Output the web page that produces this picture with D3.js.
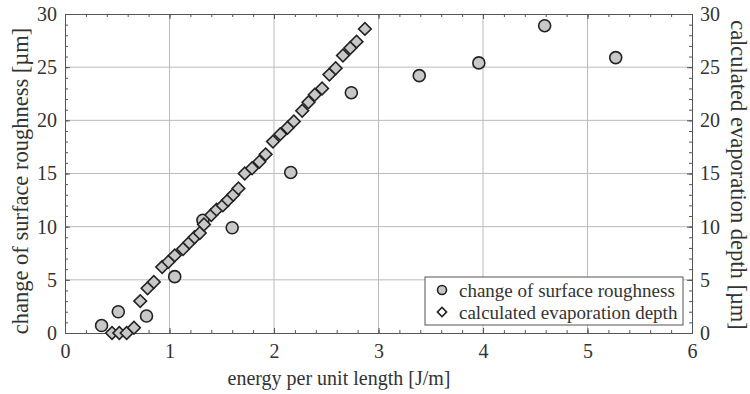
<!DOCTYPE html>
<html>
<head>
<meta charset="utf-8">
<script src="https://cdnjs.cloudflare.com/ajax/libs/d3/7.8.5/d3.min.js"></script>
<style>
  body { margin: 0; background: #fff; }
  text { font-family: "Liberation Serif", "Times New Roman", serif; fill: #333; }
</style>
</head>
<body>
<svg id="plot" width="750" height="394"></svg>
<script>
// roughness measurements
var roughX = [0.35, 0.51, 0.78, 1.05, 1.32, 1.60, 2.16, 2.74, 3.39, 3.96, 4.59, 5.27];
var roughY = [0.7, 2.0, 1.6, 5.3, 10.6, 9.9, 15.1, 22.6, 24.2, 25.4, 28.9, 25.9];

// calculated depth
var depthX = [0.45, 0.52, 0.59, 0.66, 0.72, 0.79, 0.85, 0.93, 0.99, 1.05, 1.13, 1.19, 1.24, 1.29,
              1.33, 1.40, 1.45, 1.51, 1.56, 1.61, 1.66, 1.72, 1.79, 1.86, 1.92, 1.99, 2.06, 2.13,
              2.19, 2.27, 2.33, 2.39, 2.46, 2.53, 2.59, 2.66, 2.73, 2.79, 2.87];
var depthY = [0, 0, 0, 0.5, 3.0, 4.2, 4.8, 6.2, 6.7, 7.3, 7.9, 8.5, 9.0, 9.4,
              10.2, 11.1, 11.6, 12.0, 12.5, 13.0, 13.6, 15.0, 15.5, 16.1, 16.8, 18.0, 18.7, 19.3,
              19.9, 20.9, 21.7, 22.4, 23.0, 24.3, 24.9, 26.1, 26.8, 27.4, 28.6];

var xTicks = [0, 1, 2, 3, 4, 5, 6];
var yTicks = [0, 5, 10, 15, 20, 25, 30];
var legendLabels = ["change of surface roughness", "calculated evaporation depth"];

var L = 65, R = 692, T = 14, B = 333;
var svg = d3.select("#plot");

var x = d3.scaleLinear().domain([0, 6]).range([L, R]);
var y = d3.scaleLinear().domain([0, 30]).range([B, T]);

var xMinor = d3.range(0, 6.001, 0.2);
var yMinor = d3.range(0, 30.001, 1);

// grid
svg.append("g").selectAll("line").data(xTicks.slice(1, -1)).enter().append("line")
    .attr("x1", function(d){ return x(d); }).attr("x2", function(d){ return x(d); })
    .attr("y1", T).attr("y2", B)
    .style("stroke", "#bbb").style("stroke-width", 1);
svg.append("g").selectAll("line").data(yTicks.slice(1, -1)).enter().append("line")
    .attr("y1", function(d){ return y(d); }).attr("y2", function(d){ return y(d); })
    .attr("x1", L).attr("x2", R)
    .style("stroke", "#bbb").style("stroke-width", 1);

// axes (ticks pointing inward on all four sides)
function style(g) {
  g.attr("font-family", null);
  g.select(".domain").style("stroke", "#555");
  g.selectAll(".tick line").style("stroke", "#555");
  g.selectAll("text").style("font-size", "20px").style("fill", "#333");
}
svg.append("g").attr("transform", "translate(0," + B + ")")
    .call(d3.axisBottom(x).tickValues(xMinor).tickSize(-3).tickFormat("").tickSizeOuter(0)).call(style);
svg.append("g").attr("transform", "translate(0," + B + ")")
    .call(d3.axisBottom(x).tickValues(xTicks).tickSize(-5).tickPadding(11).tickFormat(d3.format("d")).tickSizeOuter(0)).call(style);
svg.append("g").attr("transform", "translate(0," + T + ")")
    .call(d3.axisTop(x).tickValues(xMinor).tickSize(-3).tickFormat("").tickSizeOuter(0)).call(style);
svg.append("g").attr("transform", "translate(0," + T + ")")
    .call(d3.axisTop(x).tickValues(xTicks).tickSize(-5).tickFormat("").tickSizeOuter(0)).call(style);
svg.append("g").attr("transform", "translate(" + L + ",0)")
    .call(d3.axisLeft(y).tickValues(yMinor).tickSize(-3).tickFormat("").tickSizeOuter(0)).call(style);
svg.append("g").attr("transform", "translate(" + L + ",0)")
    .call(d3.axisLeft(y).tickValues(yTicks).tickSize(-5).tickPadding(8).tickFormat(d3.format("d")).tickSizeOuter(0)).call(style);
svg.append("g").attr("transform", "translate(" + R + ",0)")
    .call(d3.axisRight(y).tickValues(yMinor).tickSize(-3).tickFormat("").tickSizeOuter(0)).call(style);
svg.append("g").attr("transform", "translate(" + R + ",0)")
    .call(d3.axisRight(y).tickValues(yTicks).tickSize(-5).tickPadding(8).tickFormat(d3.format("d")).tickSizeOuter(0)).call(style);

// axis titles
svg.append("text").attr("x", 339).attr("y", 385).attr("text-anchor", "middle")
    .style("font-size", "20px").text("energy per unit length [J/m]");
svg.append("text").attr("transform", "translate(20,181) rotate(-90)")
    .attr("text-anchor", "middle").attr("dominant-baseline", "central")
    .style("font-size", "22.5px").text("change of surface roughness [µm]");
svg.append("text").attr("transform", "translate(738,175) rotate(90)")
    .attr("text-anchor", "middle").attr("dominant-baseline", "central")
    .style("font-size", "22.5px").text("calculated evaporation depth [µm]");

// markers (circles underneath, diamonds on top)
svg.append("g").selectAll("circle").data(d3.range(roughX.length)).enter().append("circle")
    .attr("cx", function(i){ return x(roughX[i]); })
    .attr("cy", function(i){ return y(roughY[i]); })
    .attr("r", 6)
    .style("fill", "#c8c8c8").style("stroke", "#222").style("stroke-width", 1.6);

var diamond = d3.symbol().type(d3.symbolSquare).size(80);
svg.append("g").selectAll("path").data(d3.range(depthX.length)).enter().append("path")
    .attr("d", diamond)
    .attr("transform", function(i){ return "translate(" + x(depthX[i]) + "," + y(depthY[i]) + ") rotate(45)"; })
    .style("fill", "#c8c8c8").style("stroke", "#222").style("stroke-width", 1.6);

// legend
var lg = svg.append("g");
lg.append("rect").attr("x", 425).attr("y", 277).attr("width", 258).attr("height", 48)
    .style("fill", "#fff").style("stroke", "#555").style("stroke-width", 1);
lg.append("circle").attr("cx", 442).attr("cy", 290).attr("r", 4.5)
    .style("fill", "#c8c8c8").style("stroke", "#222").style("stroke-width", 1.6);
lg.append("path").attr("d", d3.symbol().type(d3.symbolSquare).size(42))
    .attr("transform", "translate(442,312) rotate(45)")
    .style("fill", "#fff").style("stroke", "#222").style("stroke-width", 1.6);
lg.selectAll("text").data(legendLabels).enter().append("text")
    .attr("x", 459).attr("y", function(d, i){ return 297 + i * 22; })
    .style("font-size", "19px").text(function(d){ return d; });
</script>
</body>
</html>
